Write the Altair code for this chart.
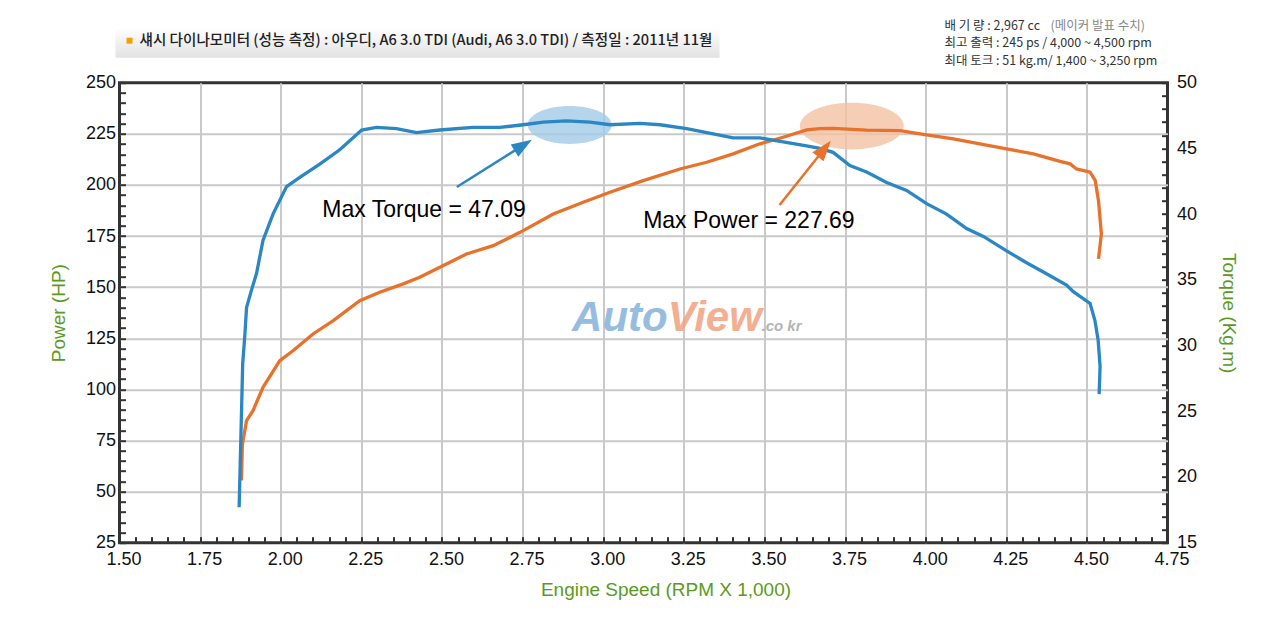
import altair as alt
import pandas as pd

# torque curve, Kg.m against rpm x 1,000
torque_rpm = [1.871, 1.873, 1.882, 1.889, 1.894, 1.909, 1.925, 1.945, 1.976, 2.018,
              2.059, 2.121, 2.183, 2.251, 2.297, 2.359, 2.421, 2.493, 2.596, 2.680,
              2.752, 2.814, 2.886, 2.959, 3.021, 3.114, 3.176, 3.259, 3.341, 3.403,
              3.486, 3.558, 3.631, 3.672, 3.713, 3.765, 3.817, 3.879, 3.941, 4.003,
              4.065, 4.127, 4.179, 4.251, 4.313, 4.365, 4.437, 4.458, 4.510, 4.525,
              4.535, 4.541, 4.538]
torque_kgm = [17.7, 19.7, 28.6, 30.9, 32.9, 34.2, 35.5, 38.0, 40.0, 42.1,
              42.8, 43.8, 44.9, 46.4, 46.6, 46.5, 46.2, 46.4, 46.6, 46.6,
              46.8, 47.0, 47.09, 47.0, 46.8, 46.9, 46.8, 46.5, 46.1, 45.8,
              45.8, 45.5, 45.2, 45.0, 44.7, 43.7, 43.2, 42.4, 41.8, 40.8,
              40.0, 38.9, 38.3, 37.2, 36.3, 35.6, 34.6, 34.1, 33.2, 31.9,
              30.4, 28.4, 26.3]

# power curve, HP against rpm x 1,000
power_rpm = [1.878, 1.881, 1.894, 1.914, 1.945, 1.997, 2.038, 2.100, 2.163, 2.245,
             2.307, 2.380, 2.431, 2.514, 2.576, 2.659, 2.742, 2.845, 2.938, 3.021,
             3.124, 3.238, 3.321, 3.403, 3.486, 3.558, 3.631, 3.672, 3.713, 3.817,
             3.920, 4.003, 4.086, 4.168, 4.251, 4.334, 4.417, 4.448, 4.468, 4.510,
             4.526, 4.536, 4.545, 4.536]
power_hp = [55.5, 73.0, 84.7, 89.6, 101.0, 114.0, 118.9, 127.1, 133.6, 143.4,
            147.5, 151.6, 154.8, 161.3, 166.2, 170.3, 176.8, 185.8, 191.5, 196.4,
            202.1, 207.8, 211.1, 215.2, 220.1, 223.3, 226.9, 227.5, 227.69, 226.8,
            226.6, 224.5, 222.5, 220.1, 217.6, 215.2, 211.5, 210.3, 207.8, 206.2,
            202.1, 192.3, 176.0, 163.8]

x_major = [1.50, 1.75, 2.00, 2.25, 2.50, 2.75, 3.00, 3.25, 3.50, 3.75, 4.00, 4.25, 4.50, 4.75]
x_minor = [round(1.50 + 0.05 * i, 2) for i in range(66)]
hp_major = [25, 50, 75, 100, 125, 150, 175, 200, 225, 250]
hp_minor = list(range(25, 251, 5))
kgm_ticks = list(range(15, 51))

# annotations (rpm, HP)
halo_rpm = [2.896, 3.771]
halo_hp = [229.3, 228.8]
arrow_rpm0 = [2.546, 3.547]
arrow_hp0 = [199.0, 190.2]
arrow_rpm1 = [2.752, 3.686]
arrow_hp1 = [219.4, 217.7]
arrow_angle = [58, 39]
note_text = ["Max Torque = 47.09", "Max Power = 227.69"]
note_rpm = [2.129, 3.124]
note_hp = [187.7, 182.4]

BLUE = "#2b87c3"
ORANGE = "#e8712b"
GREEN = "#5b9a1d"
DARK = "#333333"
GRID = "#c9c9c9"
FONT = "Liberation Sans"
KR = "Noto Sans CJK KR"

X_DOM = [1.5, 4.75]
HP_DOM = [25, 250]
KGM_DOM = [15, 50]

k = 0.5523
r = 0.45
ELLIPSE = (f"M-1,0 C-1,{-k*r:.3f} {-k:.3f},{-r} 0,{-r} C{k:.3f},{-r} 1,{-k*r:.3f} 1,0 "
           f"C1,{k*r:.3f} {k:.3f},{r} 0,{r} C{-k:.3f},{r} -1,{k*r:.3f} -1,0 Z")
ARROW = "M0,-1 L0.7,1 L-0.7,1 Z"

xscale = alt.Scale(domain=X_DOM, nice=False, zero=False)
hpscale = alt.Scale(domain=HP_DOM, nice=False, zero=False)
kgmscale = alt.Scale(domain=KGM_DOM, nice=False, zero=False)

LABELS = dict(labelFont=FONT, labelFontSize=18, labelColor="#111111",
              labelOverlap=False, labelBound=False)
TITLES = dict(titleFont=FONT, titleFontSize=19, titleFontWeight="normal", titleColor=GREEN)

# axes with labels and titles only
x_label_axis = alt.Axis(orient="bottom", values=x_major, format=".2f", grid=False, ticks=False,
                        domain=False, labelPadding=8, labelOffset=4, labelFlush=False, **LABELS,
                        title="Engine Speed (RPM X 1,000)", **TITLES,
                        titleX=546, titleY=38, titleBaseline="top", titleAlign="center")
hp_label_axis = alt.Axis(orient="left", values=hp_major, grid=False, ticks=False, domain=False,
                         labelPadding=4, **LABELS, title="Power (HP)", **TITLES, titlePadding=17)
# axes with inward minor ticks only
x_tick_axis = alt.Axis(orient="bottom", values=x_minor, labels=False, grid=False, domain=False,
                       offset=-6, tickSize=6, tickWidth=2, tickColor=DARK, title=None)
hp_tick_axis = alt.Axis(orient="left", values=hp_minor, labels=False, grid=False, domain=False,
                        offset=-6, tickSize=6, tickWidth=2, tickColor=DARK, title=None)
# axes with inner gridlines only
x_grid_axis = alt.Axis(orient="bottom", values=x_major[1:-1], labels=False, ticks=False,
                       domain=False, grid=True, gridColor=GRID, gridWidth=2, title=None)
hp_grid_axis = alt.Axis(orient="left", values=hp_major[1:-1], labels=False, ticks=False,
                        domain=False, grid=True, gridColor=GRID, gridWidth=2, title=None)
kgm_axis = alt.Axis(orient="right", values=kgm_ticks,
                    labelExpr="datum.value % 5 == 0 ? datum.label : ''",
                    grid=False, domain=False, offset=-6, tickSize=6, tickWidth=2,
                    tickColor=DARK, labelPadding=9, **LABELS,
                    title="Torque (Kg.m)", **TITLES, titlePadding=22)

power_df = pd.DataFrame({"rpm": power_rpm, "hp": power_hp, "i": range(len(power_hp))})
torque_df = pd.DataFrame({"rpm": torque_rpm, "kgm": torque_kgm, "i": range(len(torque_kgm))})
halo_df = pd.DataFrame({"rpm": halo_rpm, "hp": halo_hp,
                        "c": ["#a3cbe7", "#f4c0a2"], "s": [7056, 10816]})
arrow_df = pd.DataFrame({"r0": arrow_rpm0, "h0": arrow_hp0, "r1": arrow_rpm1,
                         "h1": arrow_hp1, "ang": arrow_angle, "c": [BLUE, ORANGE]})
note_df = pd.DataFrame({"t": note_text, "rpm": note_rpm, "hp": note_hp})
one = pd.DataFrame({"a": [0]})


def X(field, axis=None):
    return alt.X(field, scale=xscale, axis=axis)


def HP(field, axis=None):
    return alt.Y(field, scale=hpscale, axis=axis)


grid = alt.Chart(one).mark_point(opacity=0).encode(
    x=X("a:Q", x_grid_axis), y=HP("a:Q", hp_grid_axis),
)

halos = alt.Chart(halo_df).mark_point(shape=ELLIPSE, filled=True, opacity=0.8, strokeWidth=0).encode(
    x=X("rpm:Q"), y=HP("hp:Q"),
    color=alt.Color("c:N", scale=None), size=alt.Size("s:Q", scale=None),
)

power = alt.Chart(power_df).mark_line(color=ORANGE, strokeWidth=3.3).encode(
    x=X("rpm:Q", x_label_axis), y=HP("hp:Q", hp_label_axis), order="i:Q",
)

torque = alt.Chart(torque_df).mark_line(color=BLUE, strokeWidth=3.3).encode(
    x=X("rpm:Q"),
    y=alt.Y("kgm:Q", scale=kgmscale, axis=kgm_axis),
    order="i:Q",
)

shafts = alt.Chart(arrow_df).mark_rule(strokeWidth=2.5).encode(
    x=X("r0:Q"), x2="r1", y=HP("h0:Q"), y2="h1",
    color=alt.Color("c:N", scale=None),
)
heads = alt.Chart(arrow_df).mark_point(shape=ARROW, filled=True, size=420, opacity=1, strokeWidth=0).encode(
    x=X("r1:Q"), y=HP("h1:Q"),
    angle=alt.Angle("ang:Q", scale=None),
    color=alt.Color("c:N", scale=None),
)

notes = alt.Chart(note_df).mark_text(align="left", baseline="middle", font=FONT,
                                     fontSize=23, color="#000000").encode(
    x=X("rpm:Q"), y=HP("hp:Q"), text="t:N",
)

ticks = alt.Chart(one).mark_point(opacity=0).encode(
    x=X("a:Q", x_tick_axis), y=HP("a:Q", hp_tick_axis),
)

logo_text = ["Auto", "View", ".co kr"]
logo_rpm = [3.200, 3.200, 3.491]
logo_hp = [128.6, 128.6, 128.6]
logo_df = pd.DataFrame({"t": logo_text, "rpm": logo_rpm, "hp": logo_hp,
                        "c": ["#84b2da", "#f2a27e", "#a8a8a8"], "fs": [42, 42, 15]})
logo_auto = alt.Chart(logo_df.iloc[[0]]).mark_text(
    align="right", baseline="alphabetic", font=FONT, fontStyle="italic",
    fontWeight="bold", fontSize=42, opacity=0.85, color="#84b2da",
).encode(x=X("rpm:Q"), y=HP("hp:Q"), text="t:N")
logo_rest = alt.Chart(logo_df.iloc[[1, 2]]).mark_text(
    align="left", baseline="alphabetic", font=FONT, fontStyle="italic",
    fontWeight="bold", opacity=0.85,
).encode(
    x=X("rpm:Q"), y=HP("hp:Q"), text="t:N",
    color=alt.Color("c:N", scale=None), size=alt.Size("fs:Q", scale=None),
)

# header strip, drawn in pixels relative to the plot's corner
strip = alt.Chart(one).mark_rect(color={
    "gradient": "linear", "x1": 0, "y1": 0, "x2": 0, "y2": 1,
    "stops": [{"offset": 0, "color": "#ffffff"}, {"offset": 1, "color": "#e2e2e2"}],
}).encode(x=alt.value(-4), x2=alt.value(600), y=alt.value(-55), y2=alt.value(-25))
bullet = alt.Chart(one).mark_rect(color="#f2a100").encode(
    x=alt.value(7), x2=alt.value(13), y=alt.value(-45), y2=alt.value(-39))
header = alt.Chart(one).mark_text(align="left", baseline="middle", font=KR, fontSize=14.6,
                                  fontWeight=500, color="#222222").encode(
    x=alt.value(20), y=alt.value(-42),
    text=alt.value("섀시 다이나모미터 (성능 측정)  :  아우디, A6 3.0 TDI  (Audi, A6 3.0 TDI) / 측정일 : 2011년 11월"),
)

info_lines = ["배 기 량 : 2,967 cc", "최고 출력 : 245 ps / 4,000 ~ 4,500 rpm",
              "최대 토크 : 51 kg.m/ 1,400 ~ 3,250 rpm"]
info_df = pd.DataFrame({"t": info_lines, "row": [0, 1, 2]})
info = alt.Chart(info_df).mark_text(align="left", baseline="middle", font=KR, fontSize=12.5,
                                    color="#333333").encode(
    x=alt.value(825),
    y=alt.Y("row:Q", scale=alt.Scale(domain=[0, 2], range=[-57, -22]), axis=None),
    text="t:N",
)
info_note = alt.Chart(one).mark_text(align="left", baseline="middle", font=KR, fontSize=12.5,
                                     color="#888888").encode(
    x=alt.value(931), y=alt.value(-57), text=alt.value("(메이커 발표 수치)"),
)

chart = (
    alt.layer(grid, halos, power, torque, shafts, heads, notes, ticks, logo_auto, logo_rest,
              strip, bullet, header, info, info_note)
    .resolve_scale(x="independent", y="independent")
    .properties(
        width=1048, height=460,
        autosize=alt.AutoSizeParams(type="none"),
        padding={"left": 111.5, "top": 74.7, "right": 104, "bottom": 60},
    )
    .configure_view(stroke=DARK, strokeWidth=3)
)

chart.save("out.html", embed_options={"renderer": "svg", "actions": False})
